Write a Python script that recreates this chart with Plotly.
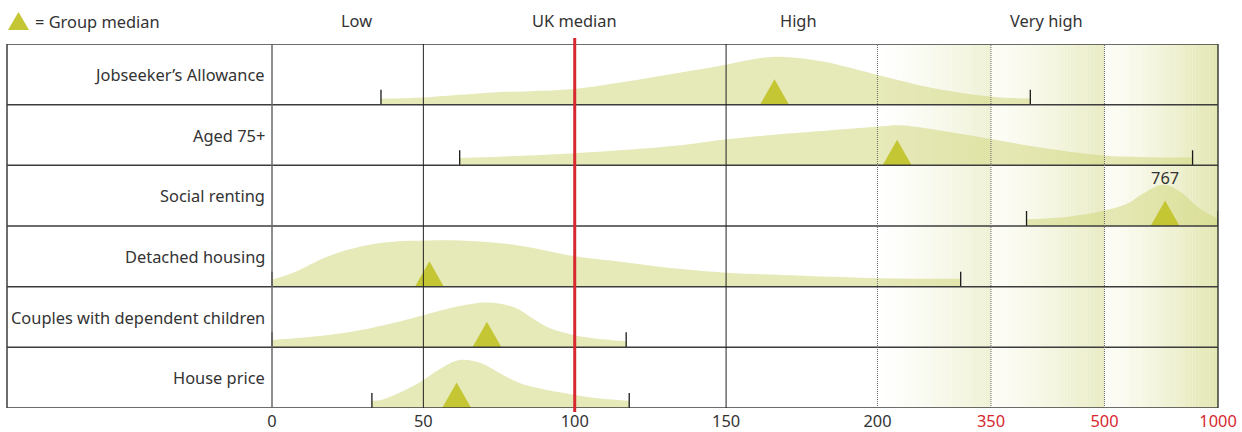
import plotly.graph_objects as go

# ---------------- DATA ----------------
rows = ["Jobseeker’s Allowance", "Aged 75+", "Social renting", "Detached housing",
        "Couples with dependent children", "House price"]
medians = [166, 226, 767, 52, 71, 61]

# density outlines (x = index value, h = height as share of the row)
jsa_x = [36, 50, 73, 100, 117, 135, 150, 166, 182, 203, 271, 352, 402]
jsa_h = [0.10, 0.12, 0.20, 0.26, 0.38, 0.53, 0.66, 0.79, 0.71, 0.48, 0.28, 0.13, 0.10]
aged_x = [62, 100, 135, 150, 175, 203, 229, 280, 352, 413, 509, 888]
aged_h = [0.12, 0.20, 0.33, 0.43, 0.54, 0.64, 0.66, 0.58, 0.43, 0.30, 0.16, 0.13]
soc_x = [397, 442, 505, 601, 672, 760, 836, 911, 968, 1000]
soc_h = [0.11, 0.14, 0.26, 0.37, 0.54, 0.68, 0.56, 0.31, 0.18, 0.12]
det_x = [0, 7, 18, 29, 40, 51, 62, 73, 84, 100, 117, 135, 150, 175, 203, 310]
det_h = [0.12, 0.23, 0.49, 0.66, 0.74, 0.76, 0.76, 0.73, 0.66, 0.50, 0.40, 0.29, 0.23, 0.18, 0.14, 0.13]
cpl_x = [0, 18, 29, 40, 50, 62, 71, 80, 86, 92, 100, 106, 117]
cpl_h = [0.12, 0.20, 0.28, 0.40, 0.53, 0.68, 0.74, 0.66, 0.48, 0.31, 0.20, 0.15, 0.10]
hse_x = [33, 36, 42, 49, 56, 62, 69, 75, 82, 95, 106, 118]
hse_h = [0.12, 0.13, 0.25, 0.43, 0.66, 0.79, 0.74, 0.58, 0.41, 0.26, 0.17, 0.12]

curves_x = [jsa_x, aged_x, soc_x, det_x, cpl_x, hse_x]
curves_h = [jsa_h, aged_h, soc_h, det_h, cpl_h, hse_h]

tick_vals = [0, 50, 100, 150, 200, 350, 500, 1000]
tick_labels = ["0", "50", "100", "150", "200", "350", "500", "1000"]
tick_red = [False, False, False, False, False, True, True, True]

header_labels = ["Low", "UK median", "High", "Very high"]
header_vals = [28, 100, 174, 424]
uk_median = 100
peak_label = "767"

# ---------------- SCALE (broken axis) ----------------
BREAK_VAL = [0, 200, 350, 500, 1000]
BREAK_POS = [0, 200, 237.5, 275, 312.5]


def pos(v):
    for i in range(len(BREAK_VAL) - 1):
        a, b = BREAK_VAL[i], BREAK_VAL[i + 1]
        if v <= b or i == len(BREAK_VAL) - 2:
            return BREAK_POS[i] + (v - a) / (b - a) * (BREAK_POS[i + 1] - BREAK_POS[i])
    return BREAK_POS[-1]


W, H = 1242, 432
ML, MR, MT, MB = 7, 24, 44, 24
PX_PER = (1218 - 272) / 312.5
X_LEFT = -(272 - ML) / PX_PER
X_RIGHT = 312.5
PLOT_H = H - MT - MB
ROW_PX = PLOT_H / 6

FONT = "Noto Sans, Open Sans, DejaVu Sans, sans-serif"
FS = 16.4
FILL = "rgba(209,215,126,0.55)"
TRI = "#c4c634"
RED = "#d7282f"
TXT = "#333333"

fig = go.Figure()
shapes = []

# gradient background in the "very high" zone
grad = [((255, 255, 255), (239, 241, 212)),
        ((253, 253, 247), (233, 236, 196)),
        ((253, 253, 247), (226, 230, 176))]
N = 40
for s in range(3):
    a, b = BREAK_POS[s + 1], BREAK_POS[s + 2]
    c0, c1 = grad[s]
    w = (b - a) / N
    for j in range(N):
        t = ((j + 0.5) / N) ** 1.25
        c = tuple(round(c0[k] + (c1[k] - c0[k]) * t) for k in range(3))
        shapes.append(dict(type="rect", xref="x", yref="paper", x0=a + j * w, x1=a + (j + 1) * w + 0.05,
                           y0=0, y1=1, line=dict(width=0), fillcolor="rgb(%d,%d,%d)" % c, layer="below"))

tri_hw = 14.5 / PX_PER
tri_h = 25.5 / ROW_PX
tick_h = 15 / ROW_PX

for i, name in enumerate(rows):
    base = 5 - i
    xs = [pos(v) for v in curves_x[i]]
    ys = [base + h for h in curves_h[i]]
    fig.add_trace(go.Scatter(x=[xs[0], xs[-1]], y=[base, base], mode="lines",
                             line=dict(width=0), hoverinfo="skip"))
    fig.add_trace(go.Scatter(x=xs, y=ys, mode="lines", fill="tonexty", fillcolor=FILL,
                             line=dict(width=0, shape="spline", smoothing=1.0), hoverinfo="skip"))
    # end ticks
    for xe in (xs[0], xs[-1]):
        fig.add_trace(go.Scatter(x=[xe, xe], y=[base, base + tick_h], mode="lines",
                                 line=dict(color="#1a1a1a", width=1.3), hoverinfo="skip"))
    # median triangle
    m = pos(medians[i])
    fig.add_trace(go.Scatter(x=[m - tri_hw, m + tri_hw, m, m - tri_hw],
                             y=[base, base, base + tri_h, base], mode="lines", fill="toself",
                             fillcolor=TRI, line=dict(width=0), hoverinfo="skip"))

# table lines
for k in range(7):
    shapes.append(dict(type="line", xref="paper", yref="y", x0=0, x1=1, y0=k, y1=k,
                       line=dict(color="#3c3c3c", width=1.5), layer="above"))
shapes.append(dict(type="line", xref="paper", yref="paper", x0=0, x1=0, y0=0, y1=1,
                   line=dict(color="#3c3c3c", width=1.5), layer="above"))
shapes.append(dict(type="line", xref="paper", yref="paper", x0=1, x1=1, y0=0, y1=1,
                   line=dict(color="#3c3c3c", width=1.5), layer="above"))
shapes.append(dict(type="line", xref="x", yref="paper", x0=0, x1=0, y0=0, y1=1,
                   line=dict(color="#6a6a6a", width=1.5), layer="above"))
for v in (50, 150):
    shapes.append(dict(type="line", xref="x", yref="paper", x0=pos(v), x1=pos(v), y0=0, y1=1,
                       line=dict(color="#222222", width=1), layer="above"))
for v in (200, 350, 500):
    shapes.append(dict(type="line", xref="x", yref="paper", x0=pos(v), x1=pos(v), y0=0, y1=1,
                       line=dict(color="#6a6a6a", width=1, dash="1px,1px"), layer="above"))
shapes.append(dict(type="line", xref="x", yref="paper", x0=pos(uk_median), x1=pos(uk_median),
                   y0=-4 / PLOT_H, y1=1 + 6 / PLOT_H, line=dict(color=RED, width=3), layer="above"))


def py(p):
    return (H - MB - p) / PLOT_H


def pxp(p):
    return (p - ML) / (W - ML - MR)


# legend triangle
shapes.append(dict(type="path", xref="paper", yref="paper",
                   path="M %f,%f L %f,%f L %f,%f Z" % (pxp(8), py(30), pxp(29), py(30), pxp(18.5), py(12)),
                   fillcolor=TRI, line=dict(width=0)))

annotations = []
for i, name in enumerate(rows):
    annotations.append(dict(text=name, xref="paper", yref="y", x=pxp(267), y=5 - i + 0.5,
                            xanchor="right", yanchor="middle", showarrow=False,
                            font=dict(family=FONT, size=FS, color=TXT)))
for lab, v in zip(header_labels, header_vals):
    annotations.append(dict(text=lab, xref="x", yref="paper", x=pos(v), y=py(20),
                            xanchor="center", yanchor="middle", showarrow=False,
                            font=dict(family=FONT, size=FS, color=TXT)))
annotations.append(dict(text="= Group median", xref="paper", yref="paper", x=pxp(33), y=py(22),
                        xanchor="left", yanchor="middle", showarrow=False,
                        font=dict(family=FONT, size=FS, color=TXT)))
annotations.append(dict(text=peak_label, xref="x", yref="y", x=pos(767), y=3 + 49 / ROW_PX,
                        xanchor="center", yanchor="middle", showarrow=False,
                        font=dict(family=FONT, size=FS, color=TXT)))

ticktext = ["<span style='color:%s'>%s</span>" % (RED if r else TXT, t) for t, r in zip(tick_labels, tick_red)]

fig.update_layout(
    width=W, height=H, margin=dict(l=ML, r=MR, t=MT, b=MB, autoexpand=False),
    plot_bgcolor="white", paper_bgcolor="white", showlegend=False,
    shapes=shapes, annotations=annotations,
    xaxis=dict(range=[X_LEFT, X_RIGHT], showgrid=False, zeroline=False, showline=False,
               tickmode="array", tickvals=[pos(v) for v in tick_vals], ticktext=ticktext,
               ticks="", tickfont=dict(family=FONT, size=FS, color=TXT), ticklabelstandoff=2,
               automargin=False, fixedrange=True),
    yaxis=dict(range=[0, 6], visible=False, fixedrange=True, automargin=False),
)

fig.write_html("out.html", config={"displayModeBar": False},
               post_script="document.body.style.margin='0';document.body.style.overflow='hidden';")
